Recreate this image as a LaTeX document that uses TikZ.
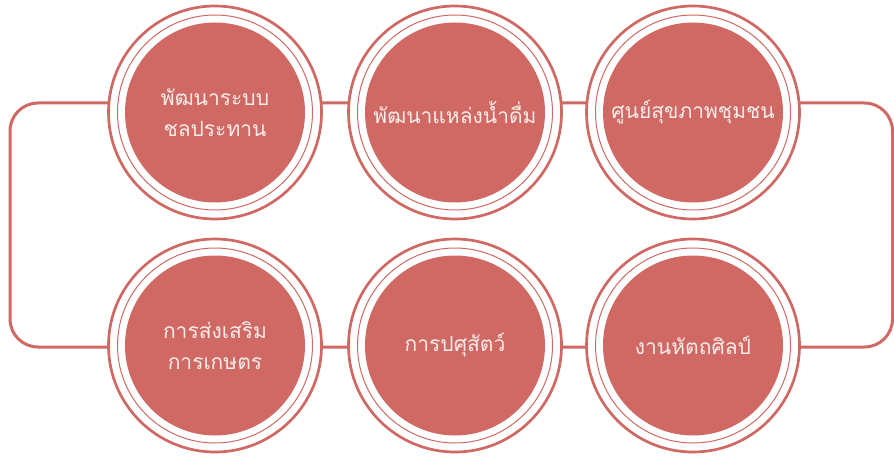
\documentclass[tikz,border=0pt]{standalone}
\usepackage{fontspec}
\newfontfamily\thaifont[Script=Thai]{Loma}
\definecolor{ringc}{RGB}{208,105,99}
\definecolor{txtc}{RGB}{252,236,234}
\begin{document}
\begin{tikzpicture}[x=1pt,y=-1pt,
  outerring/.style={circle,draw=ringc,line width=2.7pt,fill=white,minimum size=213pt,inner sep=0pt},
  thinring/.style={draw=ringc,line width=1pt},
  txtlabel/.style={text=txtc,font=\thaifont\fontsize{21}{31}\selectfont,align=center,inner sep=0pt}]
\useasboundingbox (0,0) rectangle (894,457);
\coordinate (tl) at (10,103);
\coordinate (br) at (892.5,347);
\draw[ringc,line width=3pt,rounded corners=28pt] (tl) rectangle (br);
\foreach \n/\x/\y/\t in {a/215/112.5/{พัฒนาระบบ\\ชลประทาน},
                         b/455/112.5/{พัฒนาแหล่งน้ำดื่ม},
                         c/693/112.5/{ศูนย์สุขภาพชุมชน},
                         d/215/345.5/{การส่งเสริม\\การเกษตร},
                         e/455/345.5/{การปศุสัตว์},
                         f/693/345.5/{งานหัตถศิลป์}}{
  \node[outerring] (c\n) at (\x,\y) {};
  \draw[thinring] (c\n.center) circle[radius=97.5];
  \fill[ringc] (c\n.center) circle[radius=90];
  \node[txtlabel] (t\n) at (c\n.center) {\t};
}
\end{tikzpicture}
\end{document}
